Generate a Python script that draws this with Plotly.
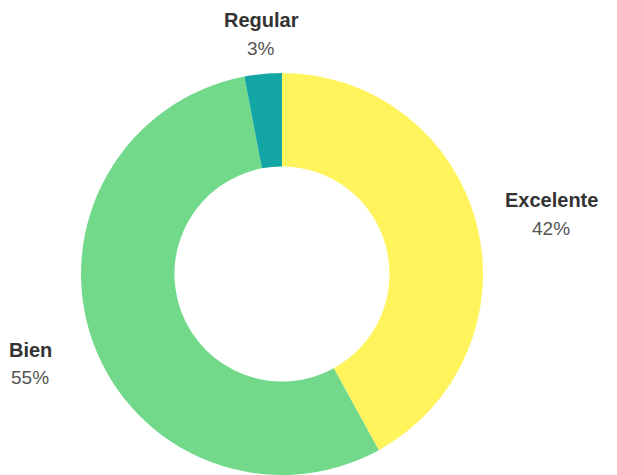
import math
import plotly.graph_objects as go

labels = ["Excelente", "Bien", "Regular"]
values = [42, 55, 3]
colors = ["#FFF45C", "#72D98B", "#14A6A5"]

W, H = 617, 475
CX, CY, R = 274, 266, 201  # pie centre / radius in figure px

fig = go.Figure(go.Pie(
    labels=labels,
    values=values,
    hole=0.535,
    sort=False,
    direction="clockwise",
    rotation=0,
    marker=dict(colors=colors, line=dict(width=0)),
    textinfo="none",
    hoverinfo="label+percent",
    showlegend=False,
    domain=dict(x=[(CX - R) / W, (CX + R) / W], y=[(H - CY - R) / H, (H - CY + R) / H]),
))

# outside labels placed at each slice's mid angle
total = sum(values)
cum = 0.0
font = "Liberation Sans, Arial, sans-serif"
for lab, v in zip(labels, values):
    mid = (cum + v / 2) / total * 2 * math.pi
    cum += v
    s, c = math.sin(mid), math.cos(mid)
    px = CX + 5 + s * (R + 72)
    py = CY - c * (R + 40) + (8 if c < 0 else 0)
    pct = f"{round(v / total * 100)}%"
    fig.add_annotation(x=px / W, y=1 - (py - 14) / H, xref="paper", yref="paper",
                       xanchor="center", yanchor="middle",
                       text=f"<b>{lab}</b>", showarrow=False,
                       font=dict(family=font, size=20, color="#333333"))
    fig.add_annotation(x=px / W, y=1 - (py + 14) / H, xref="paper", yref="paper",
                       xanchor="center", yanchor="middle",
                       text=pct, showarrow=False,
                       font=dict(family=font, size=19, color="#555555"))

fig.update_layout(
    width=W, height=H,
    margin=dict(l=0, r=0, t=0, b=0),
    paper_bgcolor="white",
    plot_bgcolor="white",
)
fig.write_html("out.html")
